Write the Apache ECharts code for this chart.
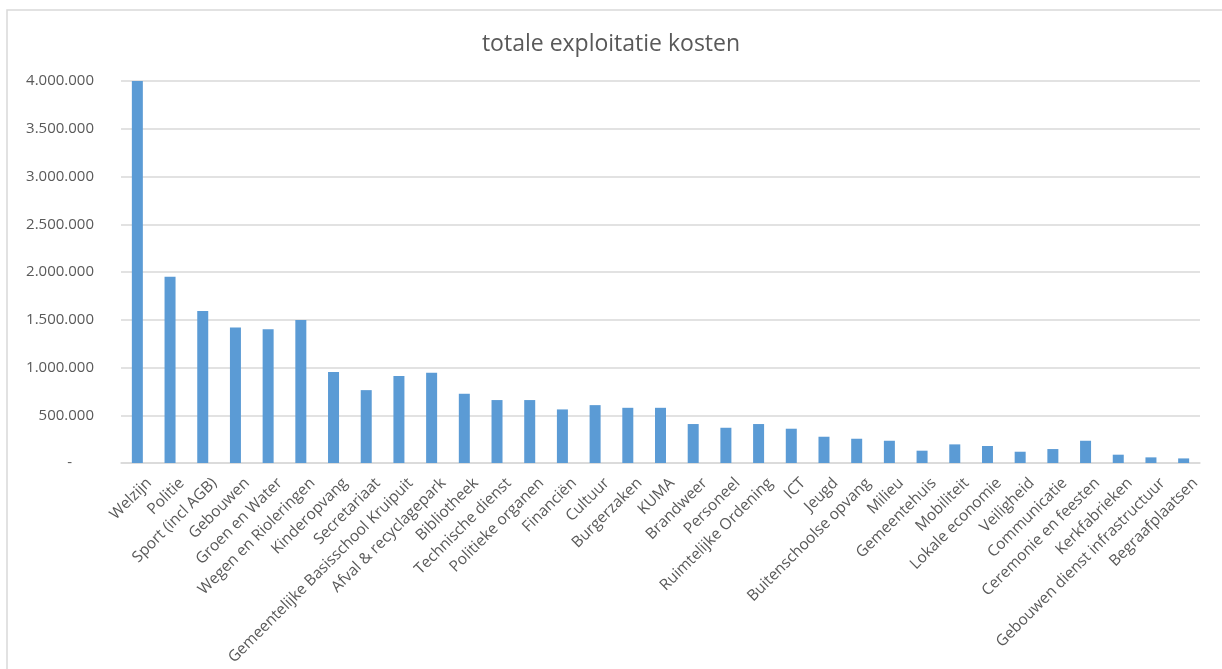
<!DOCTYPE html>
<html>
<head>
<meta charset="utf-8">
<script src="https://cdn.jsdelivr.net/npm/echarts@6/dist/echarts.min.js"></script>
<style>html,body{margin:0;padding:0;background:#fff;}#c{width:1222px;height:669px;}</style>
</head>
<body>
<div id="c"></div>
<script>
const titleText = 'totale exploitatie kosten';
const categories = ['Welzijn','Politie','Sport (incl AGB)','Gebouwen','Groen en Water','Wegen en Rioleringen','Kinderopvang','Secretariaat','Gemeentelijke Basisschool Kruipuit','Afval & recyclagepark','Bibliotheek','Technische dienst','Politieke organen','Financiën','Cultuur','Burgerzaken','KUMA','Brandweer','Personeel','Ruimtelijke Ordening','ICT','Jeugd','Buitenschoolse opvang','Milieu','Gemeentehuis','Mobiliteit','Lokale economie','Veiligheid','Communicatie','Ceremonie en feesten','Kerkfabrieken','Gebouwen dienst infrastructuur','Begraafplaatsen'];
const kosten = [4000000,1950000,1592000,1418000,1401000,1498000,954000,763000,910000,944000,725000,659000,659000,561000,606000,578000,578000,408000,369000,408000,359000,275000,254000,233000,129000,195000,178000,118000,146000,233000,87000,59000,48000];
const yTicks = {min:0, max:4000000, interval:500000};

function fmt(v){
  if (v === 0) return '{d|-}';
  return String(v).replace(/\B(?=(\d{3})+(?!\d))/g, '.');
}

const chart = echarts.init(document.getElementById('c'));
chart.setOption({
  animation:false,
  backgroundColor:'#fff',
  textStyle:{fontFamily:'Open Sans'},
  title:{text:titleText,left:'center',top:28,textStyle:{fontFamily:'Open Sans',fontSize:23,fontWeight:'normal',color:'#595959'}},
  graphic:[{type:'rect',shape:{x:7,y:10,width:1400,height:800},style:{fill:'none',stroke:'#d9d9d9',lineWidth:1.5},silent:true}],
  grid:{left:121,right:22,top:81,bottom:206,containLabel:false,outerBoundsMode:'none'},
  xAxis:{
    type:'category',data:categories,
    axisLine:{lineStyle:{color:'#d9d9d9',width:1.5}},
    axisTick:{show:false},
    axisLabel:{interval:0,rotate:45,fontSize:15.5,color:'#595959',margin:6,verticalAlign:'top',lineHeight:33}
  },
  yAxis:{
    type:'value',min:yTicks.min,max:yTicks.max,interval:yTicks.interval,
    axisLine:{show:false},axisTick:{show:false},
    splitLine:{lineStyle:{color:'#d9d9d9',width:1.5}},
    axisLabel:{fontSize:15,color:'#595959',margin:27,formatter:fmt,rich:{d:{fontSize:15,color:'#595959',padding:[0,22,0,0]}}}
  },
  series:[{type:'bar',data:kosten,barWidth:11,itemStyle:{color:'#5b9bd5'}}]
});
</script>
</body>
</html>
